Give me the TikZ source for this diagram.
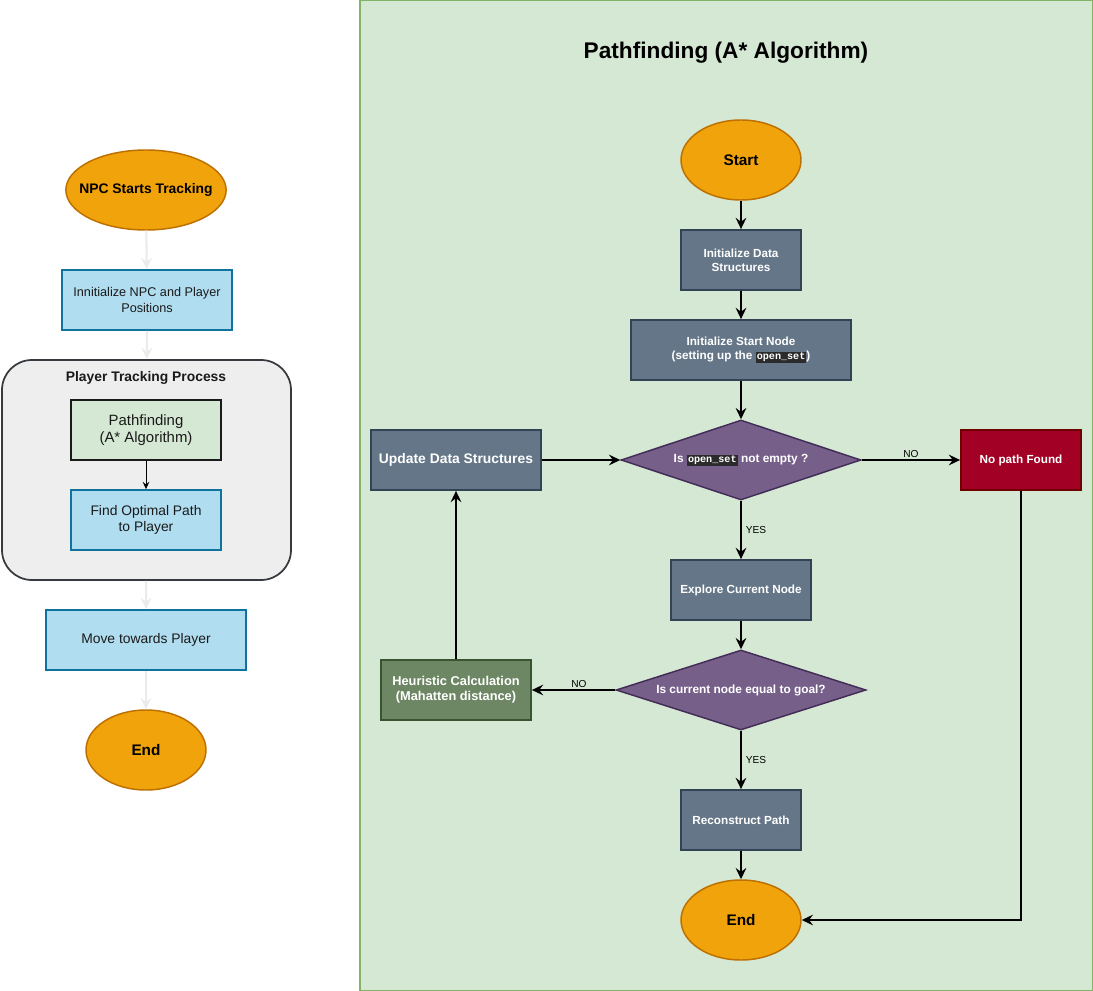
\documentclass[tikz,border=0pt]{standalone}
\usepackage{fontspec}
\setmainfont{Liberation Sans}
\setmonofont{Liberation Mono}
\usetikzlibrary{shapes.geometric,arrows.meta,positioning}
\definecolor{termfill}{HTML}{F0A30A}
\definecolor{termline}{HTML}{BD7000}
\definecolor{bluefill}{HTML}{B1DDF0}
\definecolor{blueline}{HTML}{10739E}
\definecolor{procfill}{HTML}{EEEEEE}
\definecolor{procline}{HTML}{36393D}
\definecolor{greenfill}{HTML}{D5E8D4}
\definecolor{greenline}{HTML}{82B366}
\definecolor{slatefill}{HTML}{647687}
\definecolor{slateline}{HTML}{314354}
\definecolor{purplefill}{HTML}{76608A}
\definecolor{purpleline}{HTML}{432D57}
\definecolor{redfill}{HTML}{A20025}
\definecolor{redline}{HTML}{6F0000}
\definecolor{heurfill}{HTML}{6D8764}
\definecolor{heurline}{HTML}{3A5431}
\definecolor{codebg}{HTML}{2B2B2B}
\definecolor{faint}{HTML}{EBEBEB}
\definecolor{darktext}{HTML}{1A1A1A}
\newlength\px
\setlength\px{0.75pt}
\newcommand\codeword[1]{{\setlength\fboxsep{0.8pt}\colorbox{codebg}{\ttfamily\fontsize{7.6}{8}\selectfont\color{white}#1}}}
\tikzset{
    term/.style={ellipse, draw=termline, fill=termfill, line width=1.1pt, inner sep=0pt,
      minimum width=120*\px, minimum height=80*\px, font=\bfseries\fontsize{11.5}{13}\selectfont},
    bluebox/.style={rectangle, draw=blueline, fill=bluefill, line width=1.3pt, inner sep=0pt,
      minimum width=170*\px, minimum height=60*\px, align=center, text=darktext, font=\fontsize{10.4}{12.4}\selectfont},
    slatebox/.style={rectangle, draw=slateline, fill=slatefill, line width=1.3pt, inner sep=0pt,
      minimum width=120*\px, minimum height=60*\px, align=center, text=white, font=\bfseries\fontsize{8.8}{10.5}\selectfont},
    decision/.style={diamond, aspect=3, draw=purpleline, fill=purplefill, line width=1.1pt, inner sep=0pt,
      minimum width=240*\px, minimum height=80*\px, align=center, text=white, font=\bfseries\fontsize{8.9}{10.5}\selectfont},
    flow/.style={-{Stealth[length=8.5pt,width=8pt,inset=3pt]}, line width=1.2pt, black},
    faintflow/.style={-{Stealth[length=8.5pt,width=8pt,inset=3pt]}, line width=1.5pt, faint},
    edgelabel/.style={font=\fontsize{7.6}{9}\selectfont, inner sep=1pt}
}
\begin{document}
\begin{tikzpicture}[x=1\px, y=-1\px]
\useasboundingbox (0,0) rectangle (1093,991);
\fill[white] (0,0) rectangle (1093,991);

% left column
\node[term, inner xsep=-7.5pt, minimum width=156*\px, font=\bfseries\fontsize{10.4}{12}\selectfont] (npcstart) at (146,190) {NPC Starts Tracking};
\node[bluebox, font=\fontsize{9.5}{11.5}\selectfont] (initnpc) at (147,300) {Innitialize NPC and Player\\Positions};
\node[rectangle, rounded corners=30*\px, draw=procline, fill=procfill, line width=1.3pt,
  minimum width=289*\px, minimum height=220*\px] (track) at (146.5,470) {};
\node[font=\bfseries\fontsize{10.4}{12}\selectfont, text=darktext] (tracktitle) at (146,378) {Player Tracking Process};
\node[bluebox, fill=greenfill, draw=darktext, minimum width=150*\px, font=\fontsize{11.2}{13}\selectfont] (pathfind) at (146,430) {Pathfinding\\(A* Algorithm)};
\node[bluebox, minimum width=150*\px] (optimal) at (146,520) {Find Optimal Path\\to Player};
\node[bluebox, minimum width=200*\px] (move) at (146,640) {Move towards Player};
\node[term] (endL) at (146,750) {End};

\draw[faintflow] (npcstart) -- (initnpc);
\draw[faintflow] (initnpc) -- (track);
\draw[faintflow] (track) -- (move);
\draw[faintflow] (move) -- (endL);
\draw[-{Stealth[length=5.5pt,width=5pt,inset=2pt]}, line width=0.7pt] (pathfind) -- (optimal);

% right container
\draw[fill=greenfill, draw=greenline, line width=1pt] (360,0) rectangle (1093,991);
\node[font=\bfseries\fontsize{17}{20}\selectfont] (title) at (726,53) {Pathfinding (A* Algorithm)};

\node[term] (start) at (741,160) {Start};
\node[slatebox] (initds) at (741,260) {Initialize Data\\Structures};
\node[slatebox, minimum width=220*\px] (initstart) at (741,350) {Initialize Start Node\\(setting up the \codeword{open\_set})};
\node[decision] (openset) at (741,460) {Is \codeword{open\_set} not empty ?};
\node[slatebox, minimum width=170*\px, font=\bfseries\fontsize{10.4}{12}\selectfont] (update) at (456,460) {Update Data Structures};
\node[slatebox, fill=redfill, draw=redline] (nopath) at (1021,460) {No path Found};
\node[slatebox, minimum width=140*\px] (explore) at (741,590) {Explore Current Node};
\node[decision, minimum width=250*\px] (goal) at (741,690) {Is current node equal to goal?};
\node[slatebox, fill=heurfill, draw=heurline, minimum width=150*\px, font=\bfseries\fontsize{9.6}{11.5}\selectfont] (heur) at (456,690) {Heuristic Calculation\\(Mahatten distance)};
\node[slatebox] (rebuild) at (741,820) {Reconstruct Path};
\node[term] (endR) at (741,920) {End};

\draw[flow] (start) -- (initds);
\draw[flow] (initds) -- (initstart);
\draw[flow] (initstart) -- (openset);
\draw[flow] (openset) -- node[edgelabel, above] {NO} (nopath);
\draw[flow] (openset) -- node[edgelabel, right=2pt] {YES} (explore);
\draw[flow] (explore) -- (goal);
\draw[flow] (goal) -- node[edgelabel, above, xshift=4pt] {NO} (heur);
\draw[flow] (goal) -- node[edgelabel, right=2pt] {YES} (rebuild);
\draw[flow] (rebuild) -- (endR);
\draw[flow] (heur) -- (update);
\draw[flow] (update) -- (openset);
\draw[flow] (nopath.south) |- (endR.east);
\end{tikzpicture}
\end{document}
